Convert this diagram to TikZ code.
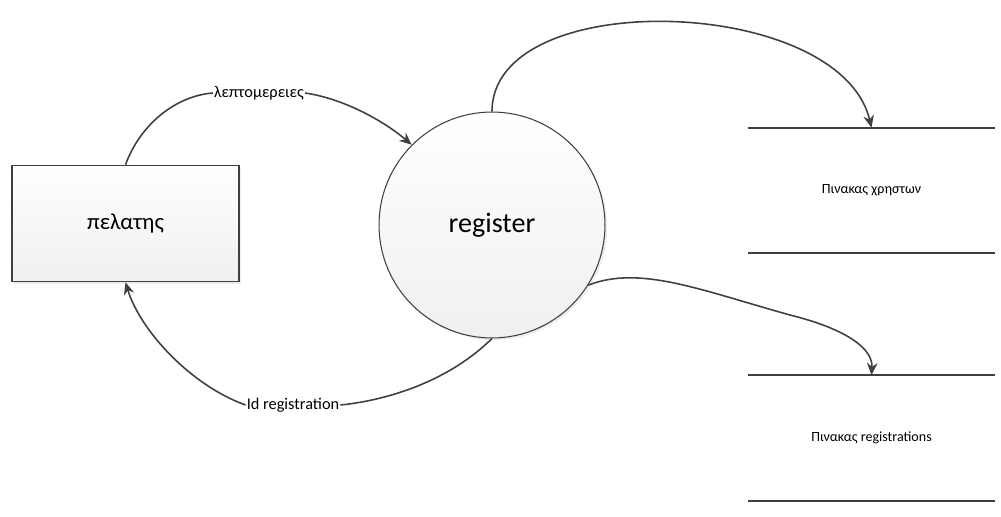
\documentclass[tikz,border=0pt]{standalone}
\usepackage{fontspec}
\setmainfont{Carlito}
\usetikzlibrary{arrows.meta,shadows}
\definecolor{linegray}{HTML}{404040}
\begin{document}
\begin{tikzpicture}[x=0.02cm, y=-0.02cm,
    entity/.style={draw=linegray, line width=0.9pt, top color=white, bottom color=gray!12,
        drop shadow={shadow xshift=1.2pt, shadow yshift=-1.2pt, opacity=0.15},
        minimum width=4.54cm, minimum height=2.32cm, font=\fontsize{13}{15}\selectfont},
    process/.style={circle, draw=linegray, line width=0.6pt, top color=white, bottom color=gray!12,
        drop shadow={shadow xshift=1.2pt, shadow yshift=-1.2pt, opacity=0.15},
        minimum size=4.52cm, font=\fontsize{16}{18}\selectfont},
    store/.style={minimum width=4.94cm, minimum height=2.5cm, font=\fontsize{8}{9}\selectfont},
    storeline/.style={draw=linegray, line width=1.1pt},
    flow/.style={draw=linegray, line width=0.9pt, -{Stealth[length=7pt, width=6pt]}},
    flowlabel/.style={fill=white, inner sep=0.5pt, font=\fontsize{9.3}{11}\selectfont}]
    \useasboundingbox (0,0) rectangle (1001,517);

    % External entity and process
    \node[entity] (pelatis) at (125.5,223.5) {πελατης};
    \node[process] (register) at (492,225) {register};

    % Data stores
    \node[store] (xristes) at (871.5,190.5) {Πινακας χρηστων};
    \node[store] (registrations) at (871.5,438) {Πινακας registrations};
    \draw[storeline] (xristes.north west) -- (xristes.north east);
    \draw[storeline] (xristes.south west) -- (xristes.south east);
    \draw[storeline] (registrations.north west) -- (registrations.north east);
    \draw[storeline] (registrations.south west) -- (registrations.south east);

    % Flow labels
    \node[flowlabel] (lepto) at (259,93) {λεπτομερειες};
    \node[flowlabel] (idreg) at (293,405) {Id registration};

    % Flows
    \draw[draw=linegray, line width=0.9pt] (pelatis.north) .. controls (140,125) and (175,96) .. (lepto.west);
    \draw[flow] (lepto.east) .. controls (340,98) and (380,118) .. (register.135);
    \draw[draw=linegray, line width=0.9pt] (register.south) .. controls (450,380) and (390,400) .. (idreg.east);
    \draw[flow] (idreg.west) .. controls (190,385) and (140,330) .. (pelatis.south);
    \draw[flow] (register.north) .. controls (492,-15) and (840,-5) .. (xristes.north);
    \draw[flow] (register.-32) .. controls (640,265) and (700,290) .. (790,315)
        .. controls (850,330) and (873,350) .. (registrations.north);
\end{tikzpicture}
\end{document}
